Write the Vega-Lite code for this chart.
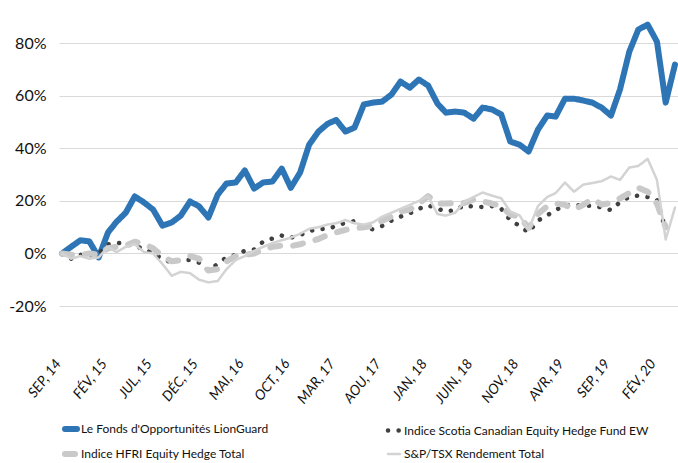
{
"$schema": "https://vega.github.io/schema/vega-lite/v6.json",
"width": 619, "height": 289,
"autosize": {"type": "none"},
"padding": {"left": 59, "top": 17, "right": 0, "bottom": 157},
"background": "white",
"config": {"view": {"stroke": null}, "font": "Lato, Liberation Sans, sans-serif"},
"data": {"values": [
{"d":"2014-09-01","s":"L","v":0},{"d":"2014-10-01","s":"L","v":2.5},{"d":"2014-11-01","s":"L","v":5},{"d":"2014-12-01","s":"L","v":4.6},{"d":"2015-01-01","s":"L","v":-1.5},{"d":"2015-02-01","s":"L","v":8},{"d":"2015-03-01","s":"L","v":12},{"d":"2015-04-01","s":"L","v":15.5},{"d":"2015-05-01","s":"L","v":21.7},{"d":"2015-06-01","s":"L","v":19.4},{"d":"2015-07-01","s":"L","v":16.7},{"d":"2015-08-01","s":"L","v":10.6},{"d":"2015-09-01","s":"L","v":11.8},{"d":"2015-10-01","s":"L","v":14.4},{"d":"2015-11-01","s":"L","v":19.8},{"d":"2015-12-01","s":"L","v":17.9},{"d":"2016-01-01","s":"L","v":13.7},{"d":"2016-02-01","s":"L","v":22.4},{"d":"2016-03-01","s":"L","v":26.6},{"d":"2016-04-01","s":"L","v":27},{"d":"2016-05-01","s":"L","v":31.6},{"d":"2016-06-01","s":"L","v":24.7},{"d":"2016-07-01","s":"L","v":27},{"d":"2016-08-01","s":"L","v":27.4},{"d":"2016-09-01","s":"L","v":32.3},{"d":"2016-10-01","s":"L","v":25},{"d":"2016-11-01","s":"L","v":30.8},{"d":"2016-12-01","s":"L","v":41.4},{"d":"2017-01-01","s":"L","v":46.4},{"d":"2017-02-01","s":"L","v":49.4},{"d":"2017-03-01","s":"L","v":50.8},{"d":"2017-04-01","s":"L","v":46.4},{"d":"2017-05-01","s":"L","v":47.9},{"d":"2017-06-01","s":"L","v":56.7},{"d":"2017-07-01","s":"L","v":57.4},{"d":"2017-08-01","s":"L","v":57.8},{"d":"2017-09-01","s":"L","v":60.5},{"d":"2017-10-01","s":"L","v":65.4},{"d":"2017-11-01","s":"L","v":63.1},{"d":"2017-12-01","s":"L","v":66.2},{"d":"2018-01-01","s":"L","v":63.9},{"d":"2018-02-01","s":"L","v":57},{"d":"2018-03-01","s":"L","v":53.6},{"d":"2018-04-01","s":"L","v":54},{"d":"2018-05-01","s":"L","v":53.6},{"d":"2018-06-01","s":"L","v":51.3},{"d":"2018-07-01","s":"L","v":55.5},{"d":"2018-08-01","s":"L","v":54.8},{"d":"2018-09-01","s":"L","v":52.9},{"d":"2018-10-01","s":"L","v":42.6},{"d":"2018-11-01","s":"L","v":41.4},{"d":"2018-12-01","s":"L","v":38.8},{"d":"2019-01-01","s":"L","v":47.1},{"d":"2019-02-01","s":"L","v":52.5},{"d":"2019-03-01","s":"L","v":52.1},{"d":"2019-04-01","s":"L","v":58.9},{"d":"2019-05-01","s":"L","v":58.9},{"d":"2019-06-01","s":"L","v":58.2},{"d":"2019-07-01","s":"L","v":57.4},{"d":"2019-08-01","s":"L","v":55.5},{"d":"2019-09-01","s":"L","v":52.5},{"d":"2019-10-01","s":"L","v":62.4},{"d":"2019-11-01","s":"L","v":76.8},{"d":"2019-12-01","s":"L","v":85.2},{"d":"2020-01-01","s":"L","v":87.1},{"d":"2020-02-01","s":"L","v":80.6},{"d":"2020-03-01","s":"L","v":57.4},{"d":"2020-04-01","s":"L","v":71.9},
{"d":"2014-09-01","s":"C","v":0},{"d":"2014-10-01","s":"C","v":-2},{"d":"2014-11-01","s":"C","v":-0.5},{"d":"2014-12-01","s":"C","v":-1},{"d":"2015-01-01","s":"C","v":0},{"d":"2015-02-01","s":"C","v":3.5},{"d":"2015-03-01","s":"C","v":4},{"d":"2015-04-01","s":"C","v":3.8},{"d":"2015-05-01","s":"C","v":2.5},{"d":"2015-06-01","s":"C","v":2},{"d":"2015-07-01","s":"C","v":0},{"d":"2015-08-01","s":"C","v":-2},{"d":"2015-09-01","s":"C","v":-3.5},{"d":"2015-10-01","s":"C","v":-2.5},{"d":"2015-11-01","s":"C","v":-2.5},{"d":"2015-12-01","s":"C","v":-3.5},{"d":"2016-01-01","s":"C","v":-6.5},{"d":"2016-02-01","s":"C","v":-4},{"d":"2016-03-01","s":"C","v":-1.5},{"d":"2016-04-01","s":"C","v":-0.5},{"d":"2016-05-01","s":"C","v":1},{"d":"2016-06-01","s":"C","v":1.5},{"d":"2016-07-01","s":"C","v":4.5},{"d":"2016-08-01","s":"C","v":5.7},{"d":"2016-09-01","s":"C","v":6.8},{"d":"2016-10-01","s":"C","v":6},{"d":"2016-11-01","s":"C","v":7},{"d":"2016-12-01","s":"C","v":8.5},{"d":"2017-01-01","s":"C","v":9.3},{"d":"2017-02-01","s":"C","v":9.3},{"d":"2017-03-01","s":"C","v":10.5},{"d":"2017-04-01","s":"C","v":11.7},{"d":"2017-05-01","s":"C","v":12.3},{"d":"2017-06-01","s":"C","v":9.8},{"d":"2017-07-01","s":"C","v":9.2},{"d":"2017-08-01","s":"C","v":10.5},{"d":"2017-09-01","s":"C","v":12.5},{"d":"2017-10-01","s":"C","v":14},{"d":"2017-11-01","s":"C","v":15.3},{"d":"2017-12-01","s":"C","v":17},{"d":"2018-01-01","s":"C","v":18.3},{"d":"2018-02-01","s":"C","v":17},{"d":"2018-03-01","s":"C","v":16},{"d":"2018-04-01","s":"C","v":16.5},{"d":"2018-05-01","s":"C","v":18.3},{"d":"2018-06-01","s":"C","v":17.8},{"d":"2018-07-01","s":"C","v":17.7},{"d":"2018-08-01","s":"C","v":18},{"d":"2018-09-01","s":"C","v":17},{"d":"2018-10-01","s":"C","v":12.7},{"d":"2018-11-01","s":"C","v":10.5},{"d":"2018-12-01","s":"C","v":8},{"d":"2019-01-01","s":"C","v":12.5},{"d":"2019-02-01","s":"C","v":14.5},{"d":"2019-03-01","s":"C","v":16.5},{"d":"2019-04-01","s":"C","v":18.3},{"d":"2019-05-01","s":"C","v":18.6},{"d":"2019-06-01","s":"C","v":18},{"d":"2019-07-01","s":"C","v":18.2},{"d":"2019-08-01","s":"C","v":17.5},{"d":"2019-09-01","s":"C","v":16.5},{"d":"2019-10-01","s":"C","v":19.5},{"d":"2019-11-01","s":"C","v":21.5},{"d":"2019-12-01","s":"C","v":22},{"d":"2020-01-01","s":"C","v":21.5},{"d":"2020-02-01","s":"C","v":20.5},{"d":"2020-03-01","s":"C","v":9},
{"d":"2014-09-01","s":"H","v":0},{"d":"2014-10-01","s":"H","v":-0.5},{"d":"2014-11-01","s":"H","v":-0.5},{"d":"2014-12-01","s":"H","v":0},{"d":"2015-01-01","s":"H","v":-0.5},{"d":"2015-02-01","s":"H","v":2},{"d":"2015-03-01","s":"H","v":2.5},{"d":"2015-04-01","s":"H","v":3},{"d":"2015-05-01","s":"H","v":4.5},{"d":"2015-06-01","s":"H","v":3.5},{"d":"2015-07-01","s":"H","v":2},{"d":"2015-08-01","s":"H","v":-1},{"d":"2015-09-01","s":"H","v":-3},{"d":"2015-10-01","s":"H","v":-2.5},{"d":"2015-11-01","s":"H","v":-1},{"d":"2015-12-01","s":"H","v":-2},{"d":"2016-01-01","s":"H","v":-6.5},{"d":"2016-02-01","s":"H","v":-6},{"d":"2016-03-01","s":"H","v":-3},{"d":"2016-04-01","s":"H","v":-1},{"d":"2016-05-01","s":"H","v":-0.5},{"d":"2016-06-01","s":"H","v":0},{"d":"2016-07-01","s":"H","v":1.5},{"d":"2016-08-01","s":"H","v":2.5},{"d":"2016-09-01","s":"H","v":3},{"d":"2016-10-01","s":"H","v":2.8},{"d":"2016-11-01","s":"H","v":3.5},{"d":"2016-12-01","s":"H","v":4.5},{"d":"2017-01-01","s":"H","v":5.5},{"d":"2017-02-01","s":"H","v":7},{"d":"2017-03-01","s":"H","v":8},{"d":"2017-04-01","s":"H","v":9},{"d":"2017-05-01","s":"H","v":9.5},{"d":"2017-06-01","s":"H","v":10},{"d":"2017-07-01","s":"H","v":10.5},{"d":"2017-08-01","s":"H","v":12.5},{"d":"2017-09-01","s":"H","v":14},{"d":"2017-10-01","s":"H","v":16},{"d":"2017-11-01","s":"H","v":16.7},{"d":"2017-12-01","s":"H","v":19},{"d":"2018-01-01","s":"H","v":21.8},{"d":"2018-02-01","s":"H","v":19},{"d":"2018-03-01","s":"H","v":19},{"d":"2018-04-01","s":"H","v":19.2},{"d":"2018-05-01","s":"H","v":19.2},{"d":"2018-06-01","s":"H","v":20.5},{"d":"2018-07-01","s":"H","v":19.8},{"d":"2018-08-01","s":"H","v":19},{"d":"2018-09-01","s":"H","v":18},{"d":"2018-10-01","s":"H","v":14.8},{"d":"2018-11-01","s":"H","v":14},{"d":"2018-12-01","s":"H","v":9.7},{"d":"2019-01-01","s":"H","v":15},{"d":"2019-02-01","s":"H","v":18},{"d":"2019-03-01","s":"H","v":19},{"d":"2019-04-01","s":"H","v":18.5},{"d":"2019-05-01","s":"H","v":16.7},{"d":"2019-06-01","s":"H","v":18.5},{"d":"2019-07-01","s":"H","v":20.8},{"d":"2019-08-01","s":"H","v":18.6},{"d":"2019-09-01","s":"H","v":19.2},{"d":"2019-10-01","s":"H","v":21},{"d":"2019-11-01","s":"H","v":23},{"d":"2019-12-01","s":"H","v":25},{"d":"2020-01-01","s":"H","v":23.5},{"d":"2020-02-01","s":"H","v":19},{"d":"2020-03-01","s":"H","v":10},
{"d":"2014-09-01","s":"T","v":0},{"d":"2014-10-01","s":"T","v":-2},{"d":"2014-11-01","s":"T","v":-1},{"d":"2014-12-01","s":"T","v":-2},{"d":"2015-01-01","s":"T","v":-1.5},{"d":"2015-02-01","s":"T","v":2.5},{"d":"2015-03-01","s":"T","v":0.5},{"d":"2015-04-01","s":"T","v":2.5},{"d":"2015-05-01","s":"T","v":3.5},{"d":"2015-06-01","s":"T","v":0.5},{"d":"2015-07-01","s":"T","v":0},{"d":"2015-08-01","s":"T","v":-4},{"d":"2015-09-01","s":"T","v":-8.5},{"d":"2015-10-01","s":"T","v":-7},{"d":"2015-11-01","s":"T","v":-7.5},{"d":"2015-12-01","s":"T","v":-10},{"d":"2016-01-01","s":"T","v":-11},{"d":"2016-02-01","s":"T","v":-10.5},{"d":"2016-03-01","s":"T","v":-6},{"d":"2016-04-01","s":"T","v":-2.5},{"d":"2016-05-01","s":"T","v":-1},{"d":"2016-06-01","s":"T","v":1},{"d":"2016-07-01","s":"T","v":2.5},{"d":"2016-08-01","s":"T","v":4},{"d":"2016-09-01","s":"T","v":5},{"d":"2016-10-01","s":"T","v":6},{"d":"2016-11-01","s":"T","v":7.5},{"d":"2016-12-01","s":"T","v":9.4},{"d":"2017-01-01","s":"T","v":10},{"d":"2017-02-01","s":"T","v":11},{"d":"2017-03-01","s":"T","v":11.5},{"d":"2017-04-01","s":"T","v":12.7},{"d":"2017-05-01","s":"T","v":11.5},{"d":"2017-06-01","s":"T","v":11},{"d":"2017-07-01","s":"T","v":11.8},{"d":"2017-08-01","s":"T","v":14},{"d":"2017-09-01","s":"T","v":15.5},{"d":"2017-10-01","s":"T","v":17},{"d":"2017-11-01","s":"T","v":18.5},{"d":"2017-12-01","s":"T","v":20},{"d":"2018-01-01","s":"T","v":21.7},{"d":"2018-02-01","s":"T","v":15},{"d":"2018-03-01","s":"T","v":14.4},{"d":"2018-04-01","s":"T","v":15.5},{"d":"2018-05-01","s":"T","v":19.5},{"d":"2018-06-01","s":"T","v":21.5},{"d":"2018-07-01","s":"T","v":23.2},{"d":"2018-08-01","s":"T","v":22},{"d":"2018-09-01","s":"T","v":21},{"d":"2018-10-01","s":"T","v":16},{"d":"2018-11-01","s":"T","v":14.5},{"d":"2018-12-01","s":"T","v":9},{"d":"2019-01-01","s":"T","v":18},{"d":"2019-02-01","s":"T","v":21.5},{"d":"2019-03-01","s":"T","v":23},{"d":"2019-04-01","s":"T","v":27},{"d":"2019-05-01","s":"T","v":23.5},{"d":"2019-06-01","s":"T","v":26.2},{"d":"2019-07-01","s":"T","v":26.8},{"d":"2019-08-01","s":"T","v":27.5},{"d":"2019-09-01","s":"T","v":29.3},{"d":"2019-10-01","s":"T","v":28},{"d":"2019-11-01","s":"T","v":32.7},{"d":"2019-12-01","s":"T","v":33.3},{"d":"2020-01-01","s":"T","v":36},{"d":"2020-02-01","s":"T","v":28},{"d":"2020-03-01","s":"T","v":5.3},{"d":"2020-04-01","s":"T","v":17.5}
]},
"mark": {"type": "line", "strokeCap": "round", "strokeJoin": "round"},
"encoding": {
  "x": {"field": "d", "type": "temporal",
    "scale": {"type": "utc", "domain": [{"year": 2014, "month": 8, "date": 22, "utc": true}, {"year": 2020, "month": 4, "date": 11, "utc": true}]},
    "axis": {"title": null, "grid": false, "domain": false, "ticks": false,
      "values": [{"year":2014,"month":9,"date":1,"utc":true},{"year":2015,"month":2,"date":1,"utc":true},{"year":2015,"month":7,"date":1,"utc":true},{"year":2015,"month":12,"date":1,"utc":true},{"year":2016,"month":5,"date":1,"utc":true},{"year":2016,"month":10,"date":1,"utc":true},{"year":2017,"month":3,"date":1,"utc":true},{"year":2017,"month":8,"date":1,"utc":true},{"year":2018,"month":1,"date":1,"utc":true},{"year":2018,"month":6,"date":1,"utc":true},{"year":2018,"month":11,"date":1,"utc":true},{"year":2019,"month":4,"date":1,"utc":true},{"year":2019,"month":9,"date":1,"utc":true},{"year":2020,"month":2,"date":1,"utc":true}],
      "labelExpr": "['JAN','FÉV','MAR','AVR','MAI','JUIN','JUL','AOU','SEP','OCT','NOV','DÉC'][utcmonth(datum.value)] + ', ' + substring(toString(utcyear(datum.value)), 2)",
      "labelAngle": -52, "labelAlign": "right", "labelBaseline": "middle", "labelPadding": 55, "labelOffset": -4,
      "labelFontStyle": "italic", "labelFontSize": 14, "labelColor": "#111", "labelOverlap": false, "labelFlush": false}},
  "y": {"field": "v", "type": "quantitative",
    "scale": {"domain": [-20, 90], "nice": false, "zero": false},
    "axis": {"title": null, "values": [-20, 0, 20, 40, 60, 80], "labelExpr": "datum.value + '%'",
      "grid": true, "gridColor": "#d9d9d9", "gridWidth": 1, "domain": false, "ticks": false,
      "labelPadding": 13, "labelFontSize": 16, "labelColor": "#111"}},
  "color": {"field": "s", "type": "nominal",
    "scale": {"domain": ["L", "H", "C", "T"], "range": ["#2e75b6", "#c9c9c9", "#404040", "#d3d3d3"]},
    "legend": {"title": null, "orient": "none", "legendX": 6, "legendY": 406, "columns": 2, "columnPadding": 110, "rowPadding": 1,
      "symbolType": "stroke", "symbolSize": 144, "symbolStrokeWidth": 6, "labelFontSize": 12, "labelColor": "#111", "labelLimit": 400, "labelOffset": 4,
      "labelExpr": "datum.value === 'L' ? \"Le Fonds d'Opportunités LionGuard\" : datum.value === 'C' ? 'Indice Scotia Canadian Equity Hedge Fund EW' : datum.value === 'H' ? 'Indice HFRI Equity Hedge Total' : 'S&P/TSX Rendement Total'",
      "encode": {"symbols": {"update": {"strokeWidth": {"signal": "datum.value === 'T' ? 2.5 : datum.value === 'C' ? 4.5 : 6"}, "strokeCap": {"value": "round"}}}}}},
  "strokeDash": {"field": "s", "type": "nominal",
    "scale": {"domain": ["L", "H", "C", "T"], "range": [[1, 0], [10, 13], [0.1, 10.5], [1, 0]]},
    "legend": {"title": null, "orient": "none", "legendX": 6, "legendY": 406, "columns": 2, "columnPadding": 110, "rowPadding": 1,
      "symbolType": "stroke", "symbolSize": 144, "symbolStrokeWidth": 6, "labelFontSize": 12, "labelColor": "#111", "labelLimit": 400, "labelOffset": 4,
      "labelExpr": "datum.value === 'L' ? \"Le Fonds d'Opportunités LionGuard\" : datum.value === 'C' ? 'Indice Scotia Canadian Equity Hedge Fund EW' : datum.value === 'H' ? 'Indice HFRI Equity Hedge Total' : 'S&P/TSX Rendement Total'",
      "encode": {"symbols": {"update": {"strokeWidth": {"signal": "datum.value === 'T' ? 2.5 : datum.value === 'C' ? 4.5 : 6"}, "strokeCap": {"value": "round"}}}}}},
  "strokeWidth": {"condition": [{"test": "datum.s === 'T'", "value": 2.5}, {"test": "datum.s === 'C'", "value": 4.5}], "value": 6}
}
}
